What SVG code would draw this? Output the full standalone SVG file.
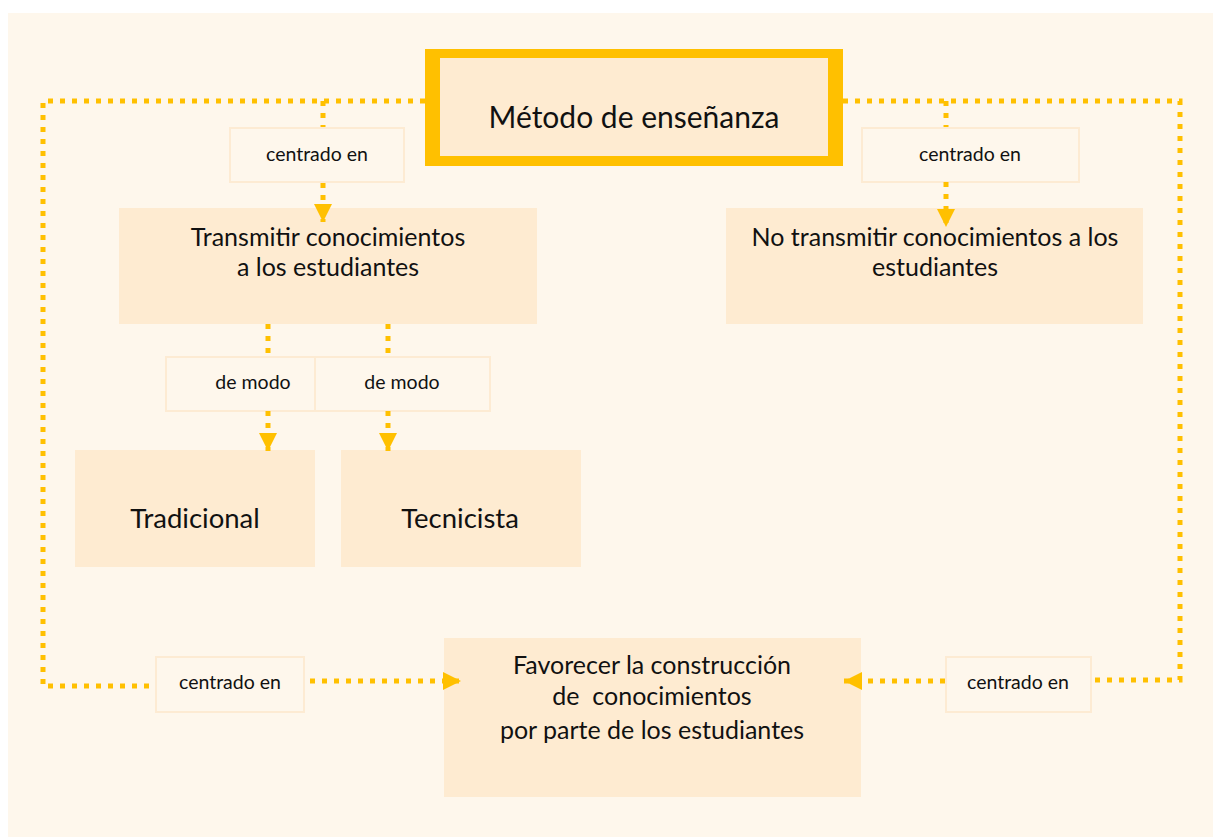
<svg xmlns="http://www.w3.org/2000/svg" width="1213" height="837" viewBox="0 0 1213 837">
<defs>
<style>
.bg{fill:#FEF7EC}
.box{fill:#FEEBD1}
.lbl{fill:#FEF7EC;stroke:#FDEBD3;stroke-width:2}
.t{font-family:Lato,"Liberation Sans",sans-serif;fill:#111;text-anchor:middle}
.s{font-size:19.5px}
.m{font-size:25px}
.l{font-size:27.5px}
.c{fill:none;stroke:#FFC000;stroke-width:5;stroke-dasharray:5 7}
</style>
<marker id="ah" markerUnits="userSpaceOnUse" markerWidth="20" markerHeight="20" refX="18" refY="9" orient="auto">
<path d="M0,0 L18,9 L0,18 Z" fill="#FFC000"/>
</marker>
</defs>
<rect x="0" y="0" width="1213" height="837" fill="#FFFFFF"/>
<rect class="bg" x="8" y="13" width="1205" height="824"/>
<g id="metodo">
<rect x="425" y="49" width="418" height="117" fill="#FFC000"/>
<rect class="box" x="440" y="58" width="388" height="98"/>
<text class="t" x="634" y="128" font-size="30">Método de enseñanza</text>
</g>
<g id="lbl-top-left">
<rect class="lbl" x="230" y="128" width="174" height="54"/>
<text class="t s" x="317" y="161">centrado en</text>
</g>
<g id="lbl-top-right">
<rect class="lbl" x="862" y="128" width="217" height="54"/>
<text class="t s" x="970" y="161">centrado en</text>
</g>
<g id="transmitir">
<rect class="box" x="119" y="208" width="418" height="116"/>
<text class="t m" x="328" y="246">Transmitir conocimientos</text>
<text class="t m" x="328" y="276">a los estudiantes</text>
</g>
<g id="no-transmitir">
<rect class="box" x="726" y="208" width="417" height="116"/>
<text class="t m" x="935" y="246">No transmitir conocimientos a los</text>
<text class="t m" x="935" y="276">estudiantes</text>
</g>
<g id="lbl-modo-1">
<rect class="lbl" x="166" y="357" width="149" height="54"/>
<text class="t s" x="253" y="389">de modo</text>
</g>
<g id="lbl-modo-2">
<rect class="lbl" x="315" y="357" width="175" height="54"/>
<text class="t s" x="402" y="389">de modo</text>
</g>
<g id="tradicional">
<rect class="box" x="75" y="450" width="240" height="117"/>
<text class="t l" x="195" y="528">Tradicional</text>
</g>
<g id="tecnicista">
<rect class="box" x="341" y="450" width="240" height="117"/>
<text class="t l" x="460" y="528">Tecnicista</text>
</g>
<g id="lbl-bottom-left">
<rect class="lbl" x="156" y="657" width="148" height="55"/>
<text class="t s" x="230" y="689">centrado en</text>
</g>
<g id="lbl-bottom-right">
<rect class="lbl" x="946" y="657" width="145" height="55"/>
<text class="t s" x="1018" y="689">centrado en</text>
</g>
<g id="favorecer">
<rect class="box" x="444" y="638" width="417" height="159"/>
<text class="t m" x="652" y="674">Favorecer la construcción</text>
<text class="t m" x="652" y="705" xml:space="preserve">de  conocimientos</text>
<text class="t m" x="652" y="739">por parte de los estudiantes</text>
</g>
<g id="connectors">
<path class="c" d="M425,101 H43 V686 H155"/>
<path class="c" d="M310,681 H461" marker-end="url(#ah)"/>
<path class="c" d="M323,101 V127"/>
<path class="c" d="M323,183 V222" marker-end="url(#ah)"/>
<path class="c" d="M843,101 H1180 V680 H1092"/>
<path class="c" d="M945,681 H844" marker-end="url(#ah)"/>
<path class="c" d="M946,101 V127"/>
<path class="c" d="M946,182 V227" marker-end="url(#ah)"/>
<path class="c" d="M268,324 V357"/>
<path class="c" d="M268,411 V451" marker-end="url(#ah)"/>
<path class="c" d="M388,324 V357"/>
<path class="c" d="M388,411 V451" marker-end="url(#ah)"/>
</g>
</svg>
